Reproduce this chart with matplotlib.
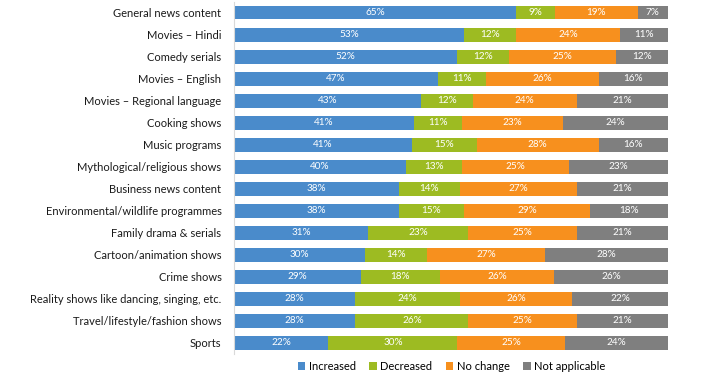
import numpy as np
import matplotlib.pyplot as plt

plt.rcParams['font.family'] = ['Lato', 'DejaVu Sans']

categories = ['General news content', 'Movies \u2013 Hindi', 'Comedy serials', 'Movies \u2013 English',
              'Movies \u2013 Regional language', 'Cooking shows', 'Music programs',
              'Mythological/religious shows', 'Business news content', 'Environmental/wildlife programmes',
              'Family drama & serials', 'Cartoon/animation shows', 'Crime shows',
              'Reality shows like dancing, singing, etc.', 'Travel/lifestyle/fashion shows', 'Sports']
increased = [65, 53, 52, 47, 43, 41, 41, 40, 38, 38, 31, 30, 29, 28, 28, 22]
decreased = [9, 12, 12, 11, 12, 11, 15, 13, 14, 15, 23, 14, 18, 24, 26, 30]
no_change = [19, 24, 25, 26, 24, 23, 28, 25, 27, 29, 25, 27, 26, 26, 25, 25]
not_applicable = [7, 11, 12, 16, 21, 24, 16, 23, 21, 18, 21, 28, 26, 22, 21, 24]

series = [('Increased', increased, '#4A8BCB'),
          ('Decreased', decreased, '#9DBB22'),
          ('No change', no_change, '#F7901E'),
          ('Not applicable', not_applicable, '#7F7F7F')]

data = np.array([s[1] for s in series], dtype=float)
totals = data.sum(axis=0)
widths = data / totals * 100  # each row fills the full bar

fig = plt.figure(figsize=(7.11, 3.79), dpi=100)
ax = fig.add_axes([0.329, 0.066, 0.6105, 0.929])

y = np.arange(len(categories))
left = np.zeros(len(categories))
handles = []
for k, (name, vals, col) in enumerate(series):
    h = ax.barh(y, widths[k], left=left, height=0.6, color=col, label=name)
    handles.append(h)
    for i in range(len(categories)):
        ax.text(left[i] + widths[k][i] / 2, y[i], str(vals[i]) + '%', ha='center', va='center',
                color='white', fontsize=7.2)
    left += widths[k]

ax.set_xlim(0, 100)
ax.set_ylim(len(categories) - 0.5, -0.5)
ax.set_yticks(y)
ax.set_yticklabels(categories, fontsize=8, color='#1a1a1a')
ax.tick_params(axis='y', length=0, pad=9)
ax.set_xticks([])
for s in ['top', 'right', 'bottom']:
    ax.spines[s].set_visible(False)
ax.spines['left'].set_color('#d9d9d9')

fig.legend(handles=handles, loc='center', bbox_to_anchor=(0.635, 0.033), ncol=4, frameon=False,
           fontsize=8, handlelength=0.7, handleheight=0.7, handletextpad=0.3, columnspacing=1.2)

fig.savefig('out.png', dpi=100)
